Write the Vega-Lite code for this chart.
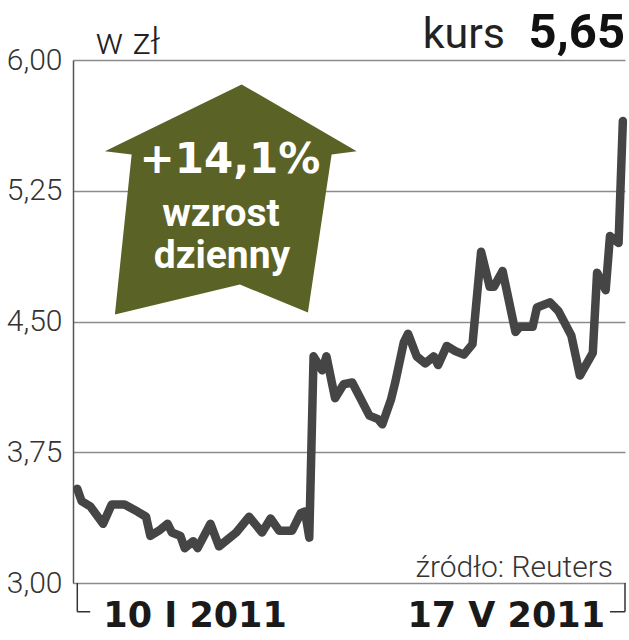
{
  "$schema": "https://vega.github.io/schema/vega-lite/v6.json",
  "width": 552,
  "height": 523,
  "autosize": {"type": "none"},
  "padding": {"left": 73, "top": 60, "right": 4, "bottom": 57},
  "background": "white",
  "config": {
    "view": {"stroke": null},
    "axisY": {
      "grid": true, "gridColor": "#8c8c8c", "gridWidth": 1.5,
      "ticks": false,
      "domain": true, "domainColor": "#555555", "domainWidth": 1.5,
      "labelFont": "Roboto", "labelFontWeight": 300, "labelFontSize": 30, "labelColor": "#333333",
      "labelPadding": 11, "labelBaseline": "middle",
      "titleAngle": 0, "titleX": 22, "titleY": -7,
      "titleAlign": "left", "titleBaseline": "alphabetic",
      "titleFont": "Roboto", "titleFontWeight": 300, "titleFontSize": 37, "titleColor": "#222222"
    }
  },
  "layer": [
    {
      "data": {"values": [
        {"date": "2011-01-10", "value": 3.54},
        {"date": "2011-01-11", "value": 3.47},
        {"date": "2011-01-13", "value": 3.44},
        {"date": "2011-01-16", "value": 3.34},
        {"date": "2011-01-18", "value": 3.45},
        {"date": "2011-01-21", "value": 3.45},
        {"date": "2011-01-24", "value": 3.41},
        {"date": "2011-01-26", "value": 3.38},
        {"date": "2011-01-27", "value": 3.27},
        {"date": "2011-01-29", "value": 3.30},
        {"date": "2011-01-31", "value": 3.34},
        {"date": "2011-02-01", "value": 3.29},
        {"date": "2011-02-03", "value": 3.27},
        {"date": "2011-02-04", "value": 3.20},
        {"date": "2011-02-06", "value": 3.24},
        {"date": "2011-02-07", "value": 3.20},
        {"date": "2011-02-10", "value": 3.34},
        {"date": "2011-02-12", "value": 3.21},
        {"date": "2011-02-16", "value": 3.29},
        {"date": "2011-02-19", "value": 3.38},
        {"date": "2011-02-22", "value": 3.29},
        {"date": "2011-02-24", "value": 3.37},
        {"date": "2011-02-26", "value": 3.30},
        {"date": "2011-03-01", "value": 3.30},
        {"date": "2011-03-03", "value": 3.40},
        {"date": "2011-03-04", "value": 3.41},
        {"date": "2011-03-05", "value": 3.26},
        {"date": "2011-03-06", "value": 4.30},
        {"date": "2011-03-08", "value": 4.22},
        {"date": "2011-03-09", "value": 4.30},
        {"date": "2011-03-11", "value": 4.06},
        {"date": "2011-03-13", "value": 4.14},
        {"date": "2011-03-15", "value": 4.15},
        {"date": "2011-03-19", "value": 3.96},
        {"date": "2011-03-21", "value": 3.94},
        {"date": "2011-03-22", "value": 3.91},
        {"date": "2011-03-24", "value": 4.05},
        {"date": "2011-03-25", "value": 4.15},
        {"date": "2011-03-27", "value": 4.38},
        {"date": "2011-03-28", "value": 4.43},
        {"date": "2011-03-30", "value": 4.30},
        {"date": "2011-04-01", "value": 4.26},
        {"date": "2011-04-03", "value": 4.30},
        {"date": "2011-04-04", "value": 4.25},
        {"date": "2011-04-06", "value": 4.36},
        {"date": "2011-04-08", "value": 4.33},
        {"date": "2011-04-10", "value": 4.31},
        {"date": "2011-04-12", "value": 4.37},
        {"date": "2011-04-14", "value": 4.90},
        {"date": "2011-04-16", "value": 4.70},
        {"date": "2011-04-17", "value": 4.70},
        {"date": "2011-04-19", "value": 4.79},
        {"date": "2011-04-22", "value": 4.44},
        {"date": "2011-04-23", "value": 4.47},
        {"date": "2011-04-26", "value": 4.47},
        {"date": "2011-04-27", "value": 4.58},
        {"date": "2011-04-30", "value": 4.61},
        {"date": "2011-05-02", "value": 4.56},
        {"date": "2011-05-05", "value": 4.42},
        {"date": "2011-05-07", "value": 4.19},
        {"date": "2011-05-10", "value": 4.32},
        {"date": "2011-05-11", "value": 4.78},
        {"date": "2011-05-13", "value": 4.68},
        {"date": "2011-05-14", "value": 4.99},
        {"date": "2011-05-16", "value": 4.95},
        {"date": "2011-05-17", "value": 5.65}
      ]},
      "mark": {"type": "line", "color": "#454545", "strokeWidth": 8.5, "strokeJoin": "round", "strokeCap": "round"},
      "encoding": {
        "x": {
          "field": "date", "type": "temporal",
          "scale": {"domain": [{"year": 2011, "month": 1, "date": 9, "utc": true}, {"year": 2011, "month": 5, "date": 17, "hours": 12, "utc": true}], "nice": false},
          "axis": null
        },
        "y": {
          "field": "value", "type": "quantitative",
          "scale": {"domain": [3, 6], "nice": false, "zero": false},
          "axis": {
            "title": "w zł",
            "values": [3, 3.75, 4.5, 5.25, 6],
            "labelExpr": "replace(format(datum.value, '.2f'), '.', ',')"
          }
        }
      }
    },
    {
      "data": {"values": [{}]},
      "mark": {"type": "point", "filled": true, "opacity": 1, "fill": "#5a6226", "strokeWidth": 0,
        "shape": "M0.077,-0.913 L0.99,-0.383 L0.791,-0.357 L0.603,0.897 L0.063,0.675 L-0.929,0.913 L-0.796,-0.357 L-1.008,-0.383 Z",
        "size": 63504},
      "encoding": {
        "x": {"datum": {"year": 2011, "month": 2, "date": 15, "utc": true}, "type": "temporal"},
        "y": {"datum": 5.2, "type": "quantitative"}
      }
    },
    {
      "data": {"values": [{}]},
      "mark": {"type": "text", "font": "DejaVu Sans", "fontWeight": "bold", "fontSize": 42, "color": "white", "align": "center", "baseline": "alphabetic", "dx": -2},
      "encoding": {
        "x": {"datum": {"year": 2011, "month": 2, "date": 15, "utc": true}, "type": "temporal"},
        "y": {"datum": 5.352, "type": "quantitative"},
        "text": {"value": "+14,1%"}
      }
    },
    {
      "data": {"values": [{}]},
      "mark": {"type": "text", "font": "Roboto", "fontWeight": "bold", "fontSize": 39, "color": "white", "align": "center", "baseline": "alphabetic", "dx": -11},
      "encoding": {
        "x": {"datum": {"year": 2011, "month": 2, "date": 15, "utc": true}, "type": "temporal"},
        "y": {"datum": 5.048, "type": "quantitative"},
        "text": {"value": "wzrost"}
      }
    },
    {
      "data": {"values": [{}]},
      "mark": {"type": "text", "font": "Roboto", "fontWeight": "bold", "fontSize": 39, "color": "white", "align": "center", "baseline": "alphabetic", "dx": -10},
      "encoding": {
        "x": {"datum": {"year": 2011, "month": 2, "date": 15, "utc": true}, "type": "temporal"},
        "y": {"datum": 4.808, "type": "quantitative"},
        "text": {"value": "dzienny"}
      }
    },
    {
      "data": {"values": [{}]},
      "mark": {"type": "text", "font": "Roboto", "fontWeight": "bold", "fontSize": 49, "color": "#111111", "align": "right", "baseline": "alphabetic"},
      "encoding": {
        "x": {"datum": {"year": 2011, "month": 5, "date": 17, "hours": 12, "utc": true}, "type": "temporal"},
        "y": {"datum": 6.069, "type": "quantitative"},
        "text": {"value": "5,65"}
      }
    },
    {
      "data": {"values": [{}]},
      "mark": {"type": "text", "font": "Roboto", "fontWeight": "normal", "fontSize": 43, "color": "#222222", "align": "right", "baseline": "alphabetic", "dx": -120},
      "encoding": {
        "x": {"datum": {"year": 2011, "month": 5, "date": 17, "hours": 12, "utc": true}, "type": "temporal"},
        "y": {"datum": 6.069, "type": "quantitative"},
        "text": {"value": "kurs"}
      }
    },
    {
      "data": {"values": [{}]},
      "mark": {"type": "text", "font": "Roboto", "fontWeight": 300, "fontSize": 30, "color": "#333333", "align": "right", "baseline": "alphabetic", "dx": -12},
      "encoding": {
        "x": {"datum": {"year": 2011, "month": 5, "date": 17, "hours": 12, "utc": true}, "type": "temporal"},
        "y": {"datum": 3.034, "type": "quantitative"},
        "text": {"value": "źródło: Reuters"}
      }
    },
    {
      "data": {"values": [{}]},
      "mark": {"type": "rule", "color": "#333333", "strokeWidth": 1.5},
      "encoding": {
        "x": {"datum": {"year": 2011, "month": 1, "date": 10, "utc": true}, "type": "temporal"},
        "y": {"datum": 3.0, "type": "quantitative"},
        "y2": {"datum": 2.835}
      }
    },
    {
      "data": {"values": [{}]},
      "mark": {"type": "rule", "color": "#333333", "strokeWidth": 1.5},
      "encoding": {
        "x": {"datum": {"year": 2011, "month": 1, "date": 10, "utc": true}, "type": "temporal"},
        "x2": {"datum": {"year": 2011, "month": 1, "date": 13, "utc": true}},
        "y": {"datum": 2.835, "type": "quantitative"}
      }
    },
    {
      "data": {"values": [{}]},
      "mark": {"type": "rule", "color": "#333333", "strokeWidth": 1.5},
      "encoding": {
        "x": {"datum": {"year": 2011, "month": 5, "date": 17, "hours": 12, "utc": true}, "type": "temporal"},
        "y": {"datum": 3.0, "type": "quantitative"},
        "y2": {"datum": 2.835}
      }
    },
    {
      "data": {"values": [{}]},
      "mark": {"type": "rule", "color": "#333333", "strokeWidth": 1.5},
      "encoding": {
        "x": {"datum": {"year": 2011, "month": 5, "date": 14, "utc": true}, "type": "temporal"},
        "x2": {"datum": {"year": 2011, "month": 5, "date": 17, "hours": 12, "utc": true}},
        "y": {"datum": 2.835, "type": "quantitative"}
      }
    },
    {
      "data": {"values": [{}]},
      "mark": {"type": "text", "font": "DejaVu Sans", "fontWeight": "bold", "fontSize": 35, "color": "#1a1a1a", "align": "left", "baseline": "alphabetic", "dx": 26},
      "encoding": {
        "x": {"datum": {"year": 2011, "month": 1, "date": 10, "utc": true}, "type": "temporal"},
        "y": {"datum": 2.745, "type": "quantitative"},
        "text": {"value": "10 I 2011"}
      }
    },
    {
      "data": {"values": [{}]},
      "mark": {"type": "text", "font": "DejaVu Sans", "fontWeight": "bold", "fontSize": 35, "color": "#1a1a1a", "align": "right", "baseline": "alphabetic", "dx": -20},
      "encoding": {
        "x": {"datum": {"year": 2011, "month": 5, "date": 17, "hours": 12, "utc": true}, "type": "temporal"},
        "y": {"datum": 2.745, "type": "quantitative"},
        "text": {"value": "17 V 2011"}
      }
    }
  ]
}
